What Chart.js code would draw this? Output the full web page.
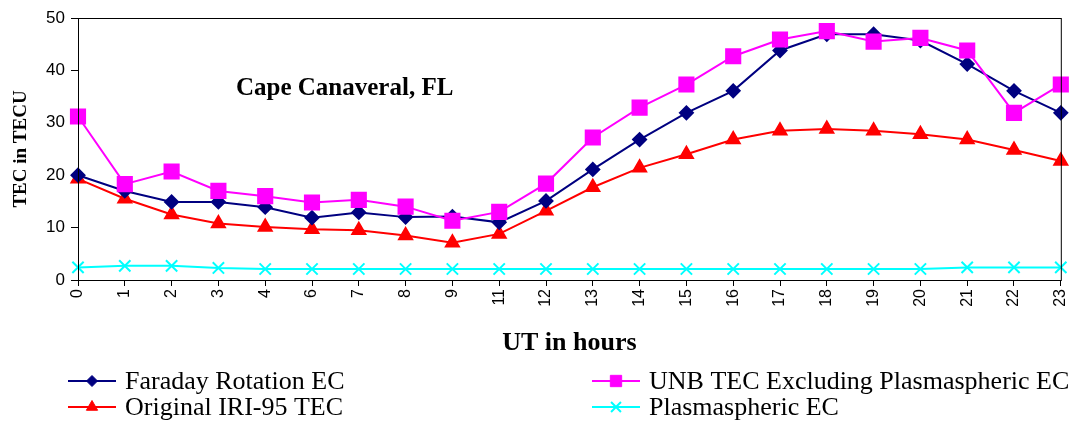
<!DOCTYPE html>
<html>
<head>
<meta charset="utf-8">
<script src="https://cdn.jsdelivr.net/npm/chart.js@4/dist/chart.umd.min.js"></script>
<style>
  html, body { margin: 0; padding: 0; background: #fff; }
  #wrap { width: 1083px; height: 425px; position: relative; }
</style>
</head>
<body>
<div id="wrap"><canvas id="tec"></canvas></div>
<script>
// UT hours shown on the axis (5 and 10 are missing in the source)
const hours = ['0', '1', '2', '3', '4', '6', '7', '8', '9', '11', '12', '13', '14', '15', '16', '17', '18', '19', '20', '21', '22', '23'];

const faradayEC = [20, 17, 14.9, 14.9, 13.9, 11.9, 12.9, 12, 12.1, 11, 15.1, 21.1, 26.8, 31.9, 36.1, 43.8, 46.9, 46.9, 45.7, 41.2, 36.1, 31.9];
const unbTEC = [31.2, 18.3, 20.7, 17, 16, 14.8, 15.3, 14, 11.3, 13, 18.4, 27.2, 32.9, 37.3, 42.7, 45.9, 47.5, 45.5, 46.2, 43.8, 31.9, 37.3];
const iriTEC = [19.3, 15.5, 12.5, 10.8, 10.1, 9.7, 9.5, 8.5, 7.1, 8.8, 13.2, 17.7, 21.4, 24, 26.8, 28.5, 28.8, 28.5, 27.8, 26.8, 24.8, 22.7];
const plasmaEC = [2.4, 2.7, 2.7, 2.3, 2.1, 2.1, 2.1, 2.1, 2.1, 2.1, 2.1, 2.1, 2.1, 2.1, 2.1, 2.1, 2.1, 2.1, 2.1, 2.4, 2.4, 2.4];

const yTicks = { min: 0, max: 50, step: 10 };

const serif = "'Liberation Serif', 'Times New Roman', serif";
const sans = "'Liberation Sans', Arial, sans-serif";

// box round the plot, the station label and a two column legend
const extras = {
    id: 'extras',
    afterDraw(chart) {
        const ctx = chart.ctx;
        const a = chart.chartArea;
        ctx.save();
        ctx.strokeStyle = '#000';
        ctx.lineWidth = 1;
        ctx.strokeRect(a.left + 0.5, a.top + 0.5, a.right - a.left, a.bottom - a.top);

        ctx.fillStyle = '#000';
        ctx.font = 'bold 25px ' + serif;
        ctx.textBaseline = 'alphabetic';
        ctx.fillText('Cape Canaveral, FL', 236, 95);

        const slots = [
            { x: 68, y: 381 }, { x: 592, y: 381 },
            { x: 68, y: 407 }, { x: 592, y: 407 }
        ];
        ctx.font = '26px ' + serif;
        ctx.textBaseline = 'middle';
        chart.data.datasets.forEach((ds, i) => {
            const s = slots[i];
            ctx.strokeStyle = ds.borderColor;
            ctx.lineWidth = 2;
            ctx.beginPath();
            ctx.moveTo(s.x, s.y);
            ctx.lineTo(s.x + 48, s.y);
            ctx.stroke();
            ctx.fillStyle = ds.pointBackgroundColor;
            ctx.strokeStyle = ds.borderColor;
            ctx.lineWidth = ds.pointBorderWidth || 1;
            Chart.helpers.drawPoint(ctx, {
                pointStyle: ds.pointStyle,
                rotation: 0,
                radius: ds.legendRadius,
                borderWidth: ds.pointBorderWidth || 1
            }, s.x + 24, s.y);
            ctx.fillStyle = '#000';
            ctx.fillText(ds.label, s.x + 57, s.y + 1);
        });
        ctx.restore();
    }
};

new Chart(document.getElementById('tec'), {
    type: 'line',
    data: {
        labels: hours,
        datasets: [
            {
                label: 'Faraday Rotation EC', data: faradayEC, order: 1,
                borderColor: '#000080', backgroundColor: '#000080', pointBackgroundColor: '#000080',
                pointStyle: 'rectRot', pointRadius: 6.5, legendRadius: 5.5, borderWidth: 2
            },
            {
                label: 'UNB TEC Excluding Plasmaspheric EC', data: unbTEC, order: 0,
                borderColor: '#ff00ff', backgroundColor: '#ff00ff', pointBackgroundColor: '#ff00ff',
                pointStyle: 'rect', pointRadius: 10, legendRadius: 8, borderWidth: 2
            },
            {
                label: 'Original IRI-95 TEC', data: iriTEC, order: 2,
                borderColor: '#ff0000', backgroundColor: '#ff0000', pointBackgroundColor: '#ff0000',
                pointStyle: 'triangle', pointRadius: 7.5, legendRadius: 6.5, borderWidth: 2
            },
            {
                label: 'Plasmaspheric EC', data: plasmaEC, order: 3,
                borderColor: '#00ffff', backgroundColor: '#00ffff', pointBackgroundColor: '#00ffff',
                pointStyle: 'crossRot', pointRadius: 8, legendRadius: 7, borderWidth: 2, pointBorderWidth: 2
            }
        ]
    },
    options: {
        responsive: true,
        maintainAspectRatio: false,
        animation: false,
        layout: { padding: { left: 0, top: 18, right: 15, bottom: 65 } },
        elements: { line: { tension: 0 }, point: { borderWidth: 1 } },
        plugins: {
            legend: { display: false },
            tooltip: { enabled: false }
        },
        scales: {
            x: {
                type: 'category',
                offset: false,
                afterFit(scale) { scale.height = 80; },
                border: { color: '#000', width: 1 },
                grid: { drawOnChartArea: false, drawTicks: true, tickLength: 6, color: '#000' },
                ticks: {
                    color: '#000', font: { family: sans, size: 16 },
                    minRotation: 90, maxRotation: 90, autoSkip: false, padding: 3
                },
                title: {
                    display: true, text: 'UT in hours', color: '#000',
                    font: { family: serif, size: 26, weight: 'bold' },
                    padding: { top: 0, bottom: 1 }
                }
            },
            y: {
                min: yTicks.min, max: yTicks.max,
                afterFit(scale) { scale.width = 78; },
                border: { color: '#000', width: 1 },
                grid: { drawOnChartArea: false, drawTicks: true, tickLength: 7, color: '#000' },
                ticks: {
                    stepSize: yTicks.step, color: '#000',
                    font: { family: sans, size: 17 }, padding: 6
                },
                title: {
                    display: true, text: 'TEC in TECU', color: '#000',
                    font: { family: serif, size: 19, weight: 'bold' },
                    padding: { top: 10, bottom: 0 }
                }
            }
        }
    },
    plugins: [extras]
});
</script>
</body>
</html>
